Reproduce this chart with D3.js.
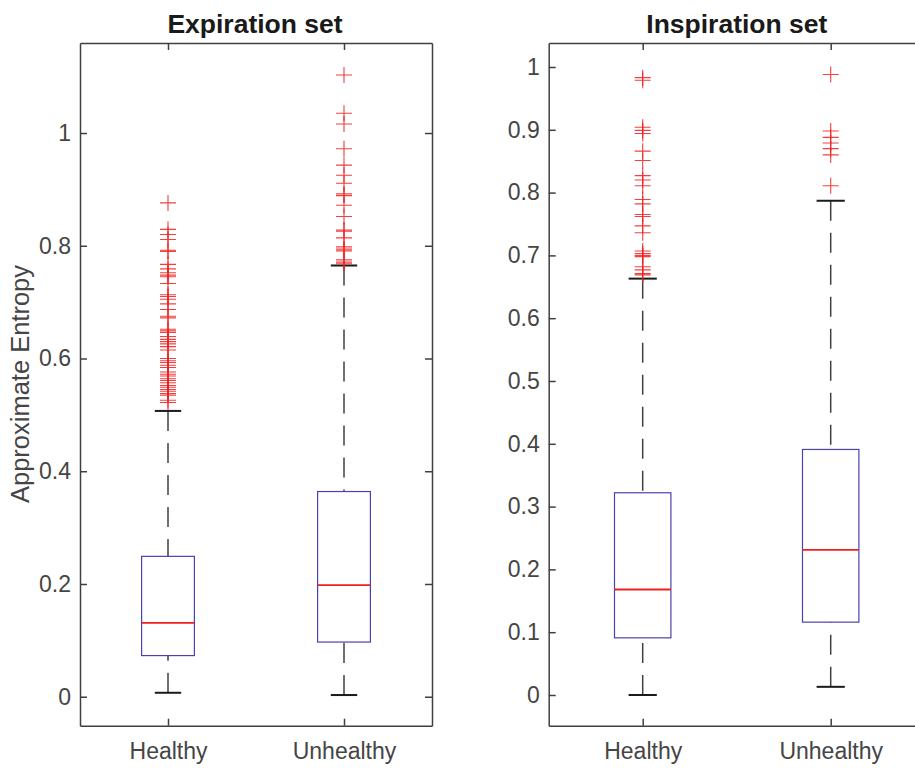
<!DOCTYPE html>
<html>
<head>
<meta charset="utf-8">
<script src="https://cdn.jsdelivr.net/npm/d3@7"></script>
<style>
  body { margin: 0; background: #fff; }
  svg { display: block; font-family: "Liberation Sans", Arial, sans-serif; }
</style>
</head>
<body>
<div id="chart"></div>
<script>
const groups = ["Healthy", "Unhealthy"];

// Expiration set: whisker ends, quartiles, medians
const expLow = [0.007, 0.003];
const expQ1 = [0.073, 0.097];
const expMed = [0.131, 0.198];
const expQ3 = [0.249, 0.364];
const expHigh = [0.507, 0.765];
const expOutHealthy = [0.876, 0.829, 0.820, 0.811, 0.792, 0.790, 0.767, 0.759, 0.752, 0.748, 0.745,
  0.733, 0.713, 0.710, 0.705, 0.697, 0.687, 0.675, 0.672, 0.652, 0.649, 0.646, 0.639, 0.634, 0.630,
  0.626, 0.621, 0.615, 0.600, 0.596, 0.593, 0.588, 0.584, 0.576, 0.572, 0.569, 0.564, 0.561, 0.557,
  0.552, 0.549, 0.545, 0.542, 0.538, 0.535, 0.526, 0.522];
const expOutUnhealthy = [1.103, 1.035, 1.016, 0.972, 0.943, 0.925, 0.911, 0.892, 0.889, 0.872, 0.852,
  0.828, 0.826, 0.814, 0.798, 0.794, 0.791, 0.775, 0.771, 0.768];

// Inspiration set
const insLow = [0.000, 0.013];
const insQ1 = [0.091, 0.116];
const insMed = [0.168, 0.231];
const insQ3 = [0.322, 0.391];
const insHigh = [0.663, 0.787];
const insOutHealthy = [0.983, 0.979, 0.904, 0.899, 0.894, 0.866, 0.851, 0.827, 0.820, 0.811, 0.789,
  0.782, 0.765, 0.762, 0.747, 0.736, 0.707, 0.703, 0.700, 0.698, 0.682, 0.677, 0.671, 0.669];
const insOutUnhealthy = [0.988, 0.898, 0.888, 0.879, 0.870, 0.860, 0.811];

const expTicks = [0, 0.2, 0.4, 0.6, 0.8, 1];
const insTicks = [0, 0.1, 0.2, 0.3, 0.4, 0.5, 0.6, 0.7, 0.8, 0.9, 1];

const W = 915, H = 768;
const axisColor = "#404040";

const svg = d3.select("#chart").append("svg")
  .attr("width", W)
  .attr("height", H);

function panel(opts) {
  const x = d3.scaleLinear().domain([0.5, 2.5]).range([opts.left, opts.right]);
  const y = d3.scaleLinear().domain(opts.yDomain).range([725.7, 43]);
  const g = svg.append("g");
  const step = x(2) - x(1);
  const boxW = step * 0.3, capW = step * 0.15;

  const stats = groups.map((name, i) => ({
    i: i + 1, name,
    low: opts.low[i], q1: opts.q1[i], med: opts.med[i], q3: opts.q3[i], high: opts.high[i],
    out: opts.out[i]
  }));

  // axes (ticks point inward)
  const fmt = d3.format("~g");
  const left = g.append("g").attr("transform", `translate(${opts.left},0)`)
    .call(d3.axisLeft(y).tickValues(opts.ticks).tickFormat(fmt).tickSizeInner(-7).tickSizeOuter(0).tickPadding(9));
  const rightAx = g.append("g").attr("transform", `translate(${opts.right},0)`)
    .call(d3.axisRight(y).tickValues(opts.ticks).tickFormat("").tickSizeInner(-7).tickSizeOuter(0));
  const bottom = g.append("g").attr("transform", `translate(0,${y.range()[0]})`)
    .call(d3.axisBottom(x).tickValues([1, 2]).tickFormat((d, i) => groups[i]).tickSizeInner(-7).tickSizeOuter(0).tickPadding(17));
  const top = g.append("g").attr("transform", `translate(0,${y.range()[1]})`)
    .call(d3.axisTop(x).tickValues([1, 2]).tickFormat("").tickSizeInner(-7).tickSizeOuter(0));

  [left, rightAx, bottom, top].forEach(a => {
    a.selectAll("path.domain").attr("stroke", axisColor).attr("stroke-width", 1.5);
    a.selectAll(".tick line").attr("stroke", axisColor).attr("stroke-width", 1.5);
    a.selectAll(".tick text").attr("fill", "#454545").style("font-size", "23px");
  });

  // whiskers (dashed)
  const wh = g.append("g").attr("stroke", "#404040").attr("stroke-width", 1.5).attr("stroke-dasharray", "20,12");
  wh.selectAll("line.lo").data(stats).join("line")
    .attr("x1", d => x(d.i)).attr("x2", d => x(d.i))
    .attr("y1", d => y(d.low)).attr("y2", d => y(d.q1));
  wh.selectAll("line.hi").data(stats).join("line").attr("class", "hi")
    .attr("x1", d => x(d.i)).attr("x2", d => x(d.i))
    .attr("y1", d => y(d.high)).attr("y2", d => y(d.q3));

  // caps
  const caps = g.append("g").attr("stroke", "#1a1a1a").attr("stroke-width", 2);
  stats.forEach(d => {
    [d.low, d.high].forEach(v => {
      caps.append("line")
        .attr("x1", x(d.i) - capW / 2).attr("x2", x(d.i) + capW / 2)
        .attr("y1", y(v)).attr("y2", y(v));
    });
  });

  // boxes
  g.append("g").selectAll("rect").data(stats).join("rect")
    .attr("x", d => x(d.i) - boxW / 2)
    .attr("width", boxW)
    .attr("y", d => y(d.q3))
    .attr("height", d => y(d.q1) - y(d.q3))
    .attr("fill", "none")
    .attr("stroke", "#4a44a8")
    .attr("stroke-width", 1.2);

  // medians
  g.append("g").selectAll("line").data(stats).join("line")
    .attr("x1", d => x(d.i) - boxW / 2).attr("x2", d => x(d.i) + boxW / 2)
    .attr("y1", d => y(d.med)).attr("y2", d => y(d.med))
    .attr("stroke", "#ee2020").attr("stroke-width", 1.8);

  // outliers
  const pts = stats.flatMap(d => d.out.map(v => ({ i: d.i, v })));
  g.append("g").selectAll("path").data(pts).join("path")
    .attr("d", d => {
      const cx = x(d.i), cy = y(d.v), r = 8;
      return `M${cx - r},${cy}H${cx + r}M${cx},${cy - r}V${cy + r}`;
    })
    .attr("fill", "none")
    .attr("stroke", "#ee2020")
    .attr("stroke-opacity", 0.85)
    .attr("stroke-width", 1.1);

  // title
  g.append("text")
    .attr("x", (opts.left + Math.min(opts.right, W)) / 2 + (opts.titleShift || 0))
    .attr("y", 33)
    .attr("text-anchor", "middle")
    .attr("fill", "#1a1a1a")
    .style("font-size", "26.5px")
    .style("font-weight", "bold")
    .text(opts.title);

  return { x, y };
}

panel({
  left: 80, right: 432, yDomain: [-0.0514, 1.1597], ticks: expTicks,
  low: expLow, q1: expQ1, med: expMed, q3: expQ3, high: expHigh,
  out: [expOutHealthy, expOutUnhealthy], title: "Expiration set", titleShift: -1
});

panel({
  left: 548.7, right: 924.7, yDomain: [-0.0489, 1.0382], ticks: insTicks,
  low: insLow, q1: insQ1, med: insMed, q3: insQ3, high: insHigh,
  out: [insOutHealthy, insOutUnhealthy], title: "Inspiration set", titleShift: 5
});

// y axis label
svg.append("text")
  .attr("transform", "translate(29,384) rotate(-90)")
  .attr("text-anchor", "middle")
  .attr("fill", "#454545")
  .style("font-size", "25.5px")
  .text("Approximate Entropy");
</script>
</body>
</html>
